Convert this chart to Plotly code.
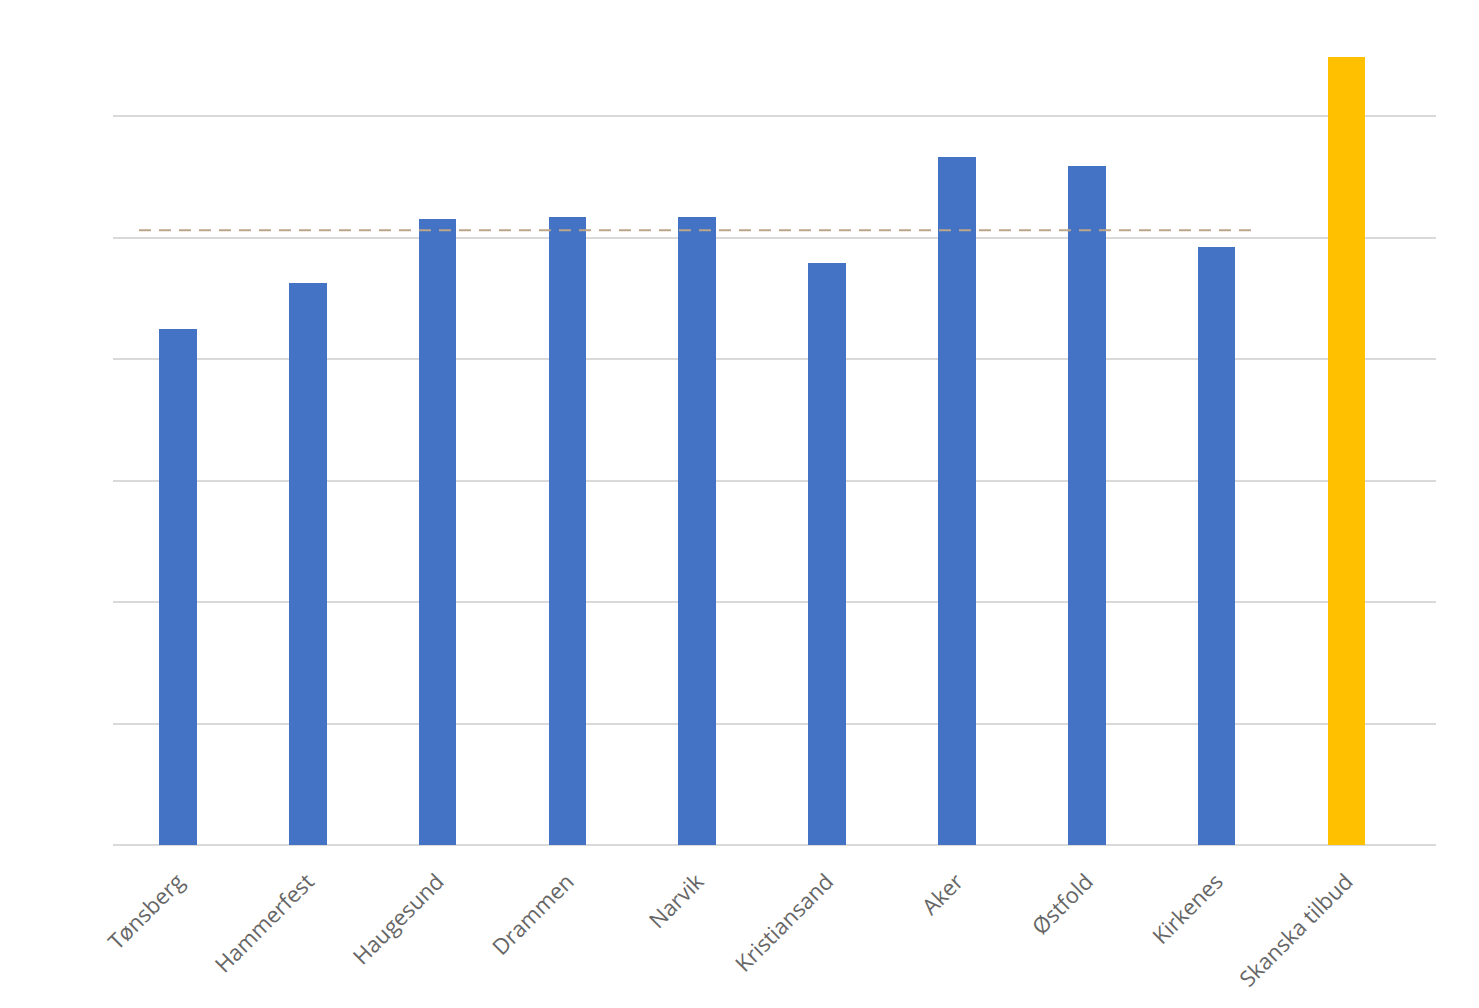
import plotly.graph_objects as go

categories = ["Tønsberg", "Hammerfest", "Haugesund", "Drammen", "Narvik",
              "Kristiansand", "Aker", "Østfold", "Kirkenes", "Skanska tilbud"]
values = [4.25, 4.63, 5.15, 5.17, 5.17, 4.79, 5.66, 5.59, 4.92, 6.49]
colors = ["#4472C4"] * 9 + ["#FFC000"]
average_value = 5.06
average_x = [-0.3, 8.3]

idx = list(range(len(categories)))

fig = go.Figure()
fig.add_trace(go.Bar(x=idx, y=values, marker=dict(color=colors, line=dict(width=0)),
                     width=0.29, showlegend=False))
fig.add_trace(go.Scatter(x=average_x, y=[average_value] * 2, mode="lines",
                         line=dict(color="#BCA68A", width=2, dash="12px,8px"),
                         showlegend=False))

fig.update_layout(
    width=1463, height=992,
    margin=dict(l=105, r=35, t=11, b=155),
    paper_bgcolor="white", plot_bgcolor="white",
    font=dict(family="Open Sans, Liberation Sans, sans-serif", color="#595959"),
    xaxis=dict(range=[-0.5, 9.69], tickvals=idx, ticktext=categories,
               tickangle=-45, tickfont=dict(size=22, color="#666666"),
               showgrid=False, zeroline=False, showline=False, automargin=False,
               ticks="outside", ticklen=14, tickcolor="rgba(0,0,0,0)"),
    yaxis=dict(range=[0, 6.8], dtick=1, showticklabels=False, automargin=False,
               gridcolor="#D9D9D9", gridwidth=1.5, zeroline=True,
               zerolinecolor="#D9D9D9", zerolinewidth=1.5, showline=False, ticks=""),
    bargap=0,
)

fig.write_html("out.html")
